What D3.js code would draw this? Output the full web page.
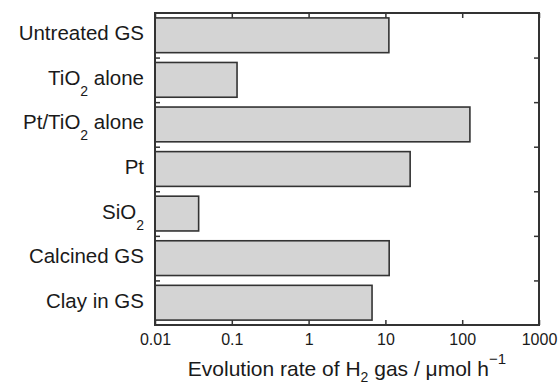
<!DOCTYPE html>
<html>
<head>
<meta charset="utf-8">
<script src="https://cdn.jsdelivr.net/npm/d3@7"></script>
<style>
  body { margin: 0; background: #fff; }
  text { font-family: "Liberation Sans", Arial, sans-serif; fill: #1a1a1a; }
</style>
</head>
<body>
<div id="my_dataviz"></div>
<script>
var width = 559
var height = 385

// categories ("_2" marks a subscript 2) and values in umol/h
var categories = ["Untreated GS", "TiO_2 alone", "Pt/TiO_2 alone", "Pt", "SiO_2", "Calcined GS", "Clay in GS"]
var rates = [11.1, 0.117, 126, 21, 0.037, 11.2, 6.7]
var tickVals = [0.01, 0.1, 1, 10, 100, 1000]
var tickLabels = ["0.01", "0.1", "1", "10", "100", "1000"]

var margin = { top: 13, right: 20, bottom: 60, left: 155 }

var svg = d3.select("#my_dataviz")
    .append("svg")
    .attr("width", width)
    .attr("height", height)

// log scale for the rate, band scale for the samples
var x = d3.scaleLog()
    .domain([0.01, 1000])
    .range([margin.left, width - margin.right])

var y = d3.scaleBand()
    .domain(categories)
    .range([margin.top, height - margin.bottom])
    .paddingInner(0.22)
    .paddingOuter(0.11)

var data = categories.map(function (c, i) { return { name: c, value: rates[i] } })

// bars
svg.append("g")
    .selectAll("rect")
    .data(data)
    .enter()
    .append("rect")
    .attr("x", x(0.01))
    .attr("y", function (d) { return y(d.name) })
    .attr("width", function (d) { return x(d.value) - x(0.01) })
    .attr("height", y.bandwidth())
    .attr("fill", "#d4d4d4")
    .attr("stroke", "#333")
    .attr("stroke-width", 1.6)

// bottom and top axes, ticks pointing in
var xBottom = svg.append("g")
    .attr("transform", "translate(0," + (height - margin.bottom) + ")")
    .call(d3.axisBottom(x).tickValues(tickVals).tickSize(-5).tickPadding(9)
        .tickFormat(function (d, i) { return tickLabels[i] }))
xBottom.selectAll("text").style("font-size", "16px").attr("fill", "#1a1a1a")

var xTop = svg.append("g")
    .attr("transform", "translate(0," + margin.top + ")")
    .call(d3.axisTop(x).tickValues(tickVals).tickSize(-5).tickFormat(""))

// category boundaries as small inward ticks, left and right
var bounds = d3.range(1, categories.length).map(function (i) { return margin.top + i * y.step() })
var yTicks = d3.scaleLinear().domain([margin.top, height - margin.bottom]).range([margin.top, height - margin.bottom])
svg.append("g")
    .attr("transform", "translate(" + margin.left + ",0)")
    .call(d3.axisLeft(yTicks).tickValues(bounds).tickSize(-5).tickFormat(""))
svg.append("g")
    .attr("transform", "translate(" + (width - margin.right) + ",0)")
    .call(d3.axisRight(yTicks).tickValues(bounds).tickSize(-5).tickFormat(""))

svg.selectAll(".domain").remove()
svg.selectAll(".tick line").attr("stroke", "#333").attr("stroke-width", 1.5)

// plot frame
svg.append("rect")
    .attr("x", margin.left)
    .attr("y", margin.top)
    .attr("width", width - margin.left - margin.right)
    .attr("height", height - margin.top - margin.bottom)
    .attr("fill", "none")
    .attr("stroke", "#333")
    .attr("stroke-width", 2)

// category labels with subscripts
var labels = svg.append("g")
    .selectAll("text")
    .data(categories)
    .enter()
    .append("text")
    .attr("x", margin.left - 11)
    .attr("y", function (d) { return y(d) + y.bandwidth() / 2 + 5 })
    .attr("text-anchor", "end")
    .style("font-size", "20.5px")

labels.each(function (d) {
    var t = d3.select(this)
    var parts = d.split("_2")
    if (parts.length == 1) { t.text(d); return }
    t.append("tspan").text(parts[0])
    t.append("tspan").text("2").attr("dy", 11).style("font-size", "14px")
    t.append("tspan").text(parts[1]).attr("dy", -11)
})

// x axis title
var title = svg.append("text")
    .attr("x", (margin.left + width - margin.right) / 2)
    .attr("y", 376)
    .attr("text-anchor", "middle")
    .style("font-size", "21px")
title.append("tspan").text("Evolution rate of H")
title.append("tspan").text("2").attr("dy", 6).style("font-size", "14px")
title.append("tspan").text(" gas / μmol h").attr("dy", -6)
title.append("tspan").text("−1").attr("dy", -12).style("font-size", "15px")
</script>
</body>
</html>
